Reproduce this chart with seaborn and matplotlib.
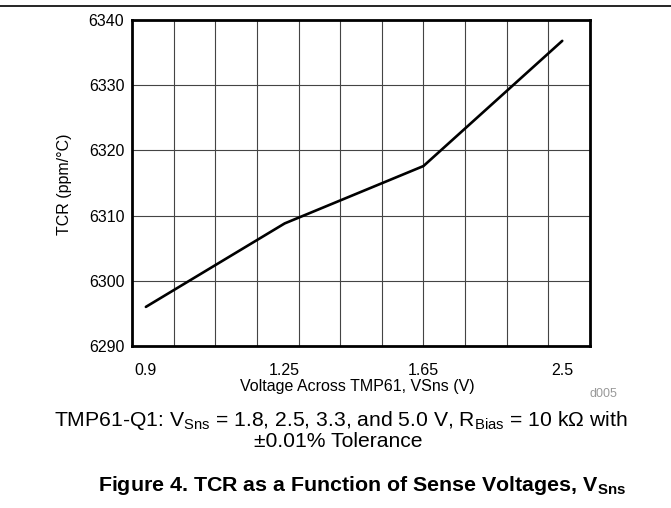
import numpy as np
import pandas as pd
import matplotlib
matplotlib.use("Agg")
import matplotlib.pyplot as plt
from matplotlib.lines import Line2D
import seaborn as sns

# Sense voltages (category labels) and measured TCR
voltages = ["0.9", "1.25", "1.65", "2.5"]
tcr_ppm = [6296.0, 6308.8, 6317.6, 6336.8]
y_ticks = [6290, 6300, 6310, 6320, 6330, 6340]

sns.set_theme(style="white")
plt.rcParams["font.family"] = ["Liberation Sans", "DejaVu Sans"]
plt.rcParams["mathtext.fontset"] = "custom"
plt.rcParams["mathtext.rm"] = "Liberation Sans"
plt.rcParams["mathtext.it"] = "Liberation Sans:italic"
plt.rcParams["mathtext.bf"] = "Liberation Sans:bold"

W, H = 671, 508
fig = plt.figure(figsize=(W / 100, H / 100), dpi=100)
fig.patch.set_facecolor("white")

# plot frame in pixel coordinates
left, right, top, bottom = 132, 590, 20, 346
ax = fig.add_axes([left / W, 1 - bottom / H, (right - left) / W, (bottom - top) / H])

df = pd.DataFrame({"pos": np.arange(len(voltages)), "tcr": tcr_ppm})
sns.lineplot(data=df, x="pos", y="tcr", ax=ax, color="black", linewidth=1.9)

ax.set_xlim(-0.1, 3.2)
ax.set_ylim(y_ticks[0], y_ticks[-1])
ax.set_xticks(np.arange(len(voltages)))
ax.set_xticklabels(voltages)
ax.set_yticks(y_ticks)

# grid: 11 equal columns and the 10-unit rows
for gx in np.arange(-0.1 + 0.3, 3.2 - 0.01, 0.3):
    ax.axvline(gx, color="#444444", linewidth=0.8, zorder=0)
for gy in y_ticks[1:-1]:
    ax.axhline(gy, color="#444444", linewidth=0.8, zorder=0)

for s in ax.spines.values():
    s.set_visible(True)
    s.set_color("black")
    s.set_linewidth(2.0)

ax.tick_params(axis="x", length=0, pad=12, labelsize=11.5, colors="black")
ax.tick_params(axis="y", length=0, pad=5.5, labelsize=11.5, colors="black")

ax.set_xlabel("Voltage Across TMP61, VSns (V)", fontsize=11.5, color="black", va="center")
ax.xaxis.set_label_coords((357 - left) / (right - left), (bottom - 386) / (bottom - top))
ax.set_ylabel("TCR (ppm/°C)", fontsize=11.5, color="black", va="center")
ax.yaxis.set_label_coords((65 - left) / (right - left), (bottom - 184) / (bottom - top))


def fx(px):
    return px / W


def fy(py):
    return 1 - py / H


fig.text(fx(603), fy(394), "d005", fontsize=9, color="#999999", ha="center", va="center")

fig.text(fx(341), fy(426),
         r"TMP61-Q1: V$_{\mathregular{Sns}}$ = 1.8, 2.5, 3.3, and 5.0 V, "
         r"R$_{\mathregular{Bias}}$ = 10 kΩ with",
         fontsize=15.2, color="black", ha="center", va="baseline")
fig.text(fx(338), fy(447), "±0.01% Tolerance",
         fontsize=15.2, color="black", ha="center", va="baseline")

fig.text(fx(362), fy(491),
         r"Figure 4. TCR as a Function of Sense Voltages, V$_{\mathbf{Sns}}$",
         fontsize=15.4, fontweight="bold", color="black", ha="center", va="baseline")

# page rule across the top
fig.add_artist(Line2D([0, 1], [fy(6), fy(6)], transform=fig.transFigure,
                      color="black", linewidth=1.2))

fig.savefig("out.png", dpi=100, facecolor="white")
